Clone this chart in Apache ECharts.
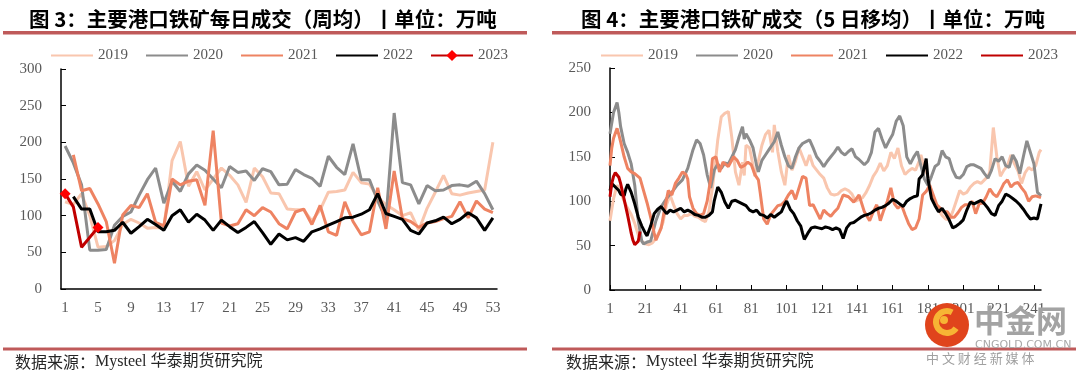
<!DOCTYPE html>
<html>
<head>
<meta charset="utf-8">
<title>主要港口铁矿成交</title>
<script src="https://cdn.jsdelivr.net/npm/echarts@6/dist/echarts.min.js"></script>
<style>
	html, body { margin: 0; padding: 0; background: #fff; }
	.box { position: absolute; top: 0; width: 540px; height: 375px; }
	#zhou { left: 0; }
	#yijun { left: 540px; }
</style>
</head>
<body>
<div class="box" id="zhou"></div>
<div class="box" id="yijun"></div>
<script>
//年份 颜色
var years = ['2019', '2020', '2021', '2022', '2023'];
var yearColor = ['#F9C6AE', '#8C8C8C', '#EE8362', '#000000', '#C00000'];

//图3 每日成交 周均 (第1-53周)
var weeks = [];
for (var i = 1; i <= 53; i++) weeks.push(String(i));
var w2019 = [119, 115, 130, 100, 57, 58, 66, 88, 95, 90, 83, 84, 83, 175, 201, 140, 160, 135, 150, 165,
	155, 142, 118, 165, 153, 131, 130, 109, 108, 108, 93, 108, 132, 133, 135, 159, 145, 143, 125, 115,
	108, 100, 104, 80, 110, 132, 155, 130, 128, 131, 133, 135, 200];
var w2020 = [195, 172, 142, 53, 53, 54, 87, 99, 105, 128, 149, 165, 117, 147, 133, 157, 169, 162, 150, 138,
	167, 159, 161, 148, 164, 160, 142, 143, 163, 156, 151, 140, 181, 166, 156, 198, 149, 149, 120, 95,
	240, 145, 142, 116, 141, 134, 135, 141, 142, 140, 147, 130, 108];
var w2021 = [null, 183, 134, 137, 116, 92, 35, 101, 114, 111, 130, 91, 86, 150, 142, 147, 149, 114, 216, 90,
	86, 89, 108, 100, 111, 105, 89, 82, 105, 109, 88, 114, 78, 73, 119, 92, 74, 78, 138, 82,
	161, 96, 92, 84, 90, 92, 96, 99, 119, 97, 120, 109, 104];
var w2022 = [null, 126, 109, 109, 78, 78, 80, 91, 76, 85, 95, 88, 80, 100, 108, 91, 102, 94, 80, 94,
	85, 77, 84, 92, 77, 61, 75, 67, 70, 65, 78, 82, 87, 92, 97, 98, 102, 108, 130, 103,
	99, 95, 80, 75, 90, 93, 98, 89, 95, 104, 97, 80, 97];
var w2023 = [130, 112, 57, null, 84];

//图4 5日移均 [日序, 万吨]
var days = [];
for (var j = 1; j <= 245; j++) days.push(String(j));
var d2019 = [[1, 78], [3, 103], [5, 118], [7, 110], [9, 100], [11, 92], [13, 85], [15, 75], [17, 62], [19, 55], [21, 52], [23, 51], [25, 53], [27, 58], [29, 66], [31, 76], [33, 96], [35, 107], [37, 96], [39, 86], [41, 80], [43, 84], [45, 84], [47, 86], [49, 83], [51, 82], [53, 79], [55, 77], [57, 88], [59, 115], [61, 150], [62, 169], [64, 195], [66, 199], [68, 201], [70, 171], [72, 133], [74, 118], [76, 144], [77, 129], [78, 163], [80, 160], [82, 140], [83, 128], [85, 145], [87, 163], [89, 175], [91, 180], [93, 155], [94, 186], [96, 156], [98, 133], [100, 118], [102, 152], [104, 135], [106, 145], [108, 160], [110, 150], [112, 140], [114, 152], [116, 140], [118, 135], [120, 130], [122, 126], [124, 115], [126, 108], [128, 107], [130, 108], [132, 112], [134, 114], [136, 112], [138, 108], [140, 100], [142, 102], [144, 104], [146, 110], [148, 118], [150, 128], [152, 134], [154, 143], [156, 134], [158, 140], [160, 155], [162, 148], [164, 160], [166, 140], [168, 130], [170, 134], [172, 137], [174, 135], [176, 145], [177, 152], [179, 138], [181, 128], [183, 105], [185, 96], [187, 90], [189, 84], [191, 80], [193, 79], [195, 88], [197, 100], [199, 112], [201, 108], [203, 110], [205, 116], [207, 120], [209, 122], [211, 120], [213, 124], [215, 128], [216, 133], [218, 183], [220, 150], [222, 128], [224, 135], [226, 140], [228, 152], [230, 142], [232, 134], [234, 120], [236, 132], [238, 138], [240, 135], [242, 140], [244, 155], [245, 158]];
var d2020 = [[1, 176], [3, 200], [5, 211], [6, 200], [7, 184], [9, 165], [11, 155], [13, 142], [15, 118], [17, 78], [19, 55], [20, 52], [22, 54], [24, 55], [27, 78], [30, 94], [33, 103], [36, 110], [39, 118], [42, 124], [45, 137], [48, 158], [50, 169], [52, 165], [54, 152], [56, 130], [58, 115], [60, 135], [62, 142], [64, 137], [66, 143], [68, 142], [70, 150], [72, 158], [74, 172], [76, 184], [77, 170], [78, 176], [80, 169], [82, 160], [84, 140], [85, 133], [87, 146], [89, 152], [91, 158], [94, 167], [96, 178], [98, 163], [100, 150], [102, 140], [104, 137], [106, 150], [108, 160], [110, 165], [112, 167], [114, 169], [116, 160], [118, 150], [120, 145], [122, 139], [124, 145], [126, 150], [128, 155], [130, 161], [132, 155], [134, 152], [136, 156], [138, 159], [140, 150], [142, 147], [145, 141], [147, 145], [149, 155], [151, 178], [153, 182], [155, 170], [157, 160], [159, 168], [161, 175], [163, 190], [165, 196], [167, 185], [169, 150], [171, 142], [173, 150], [175, 156], [177, 140], [179, 125], [181, 118], [183, 128], [185, 139], [187, 142], [189, 157], [191, 150], [193, 148], [195, 135], [197, 127], [199, 126], [201, 130], [203, 139], [205, 141], [207, 141], [209, 139], [211, 137], [213, 131], [215, 126], [217, 135], [219, 148], [221, 145], [223, 150], [225, 140], [227, 138], [229, 152], [231, 145], [233, 131], [235, 150], [237, 168], [239, 155], [241, 142], [243, 110], [245, 106]];
var d2021 = [[1, 140], [2, 160], [3, 171], [5, 182], [6, 175], [7, 167], [9, 150], [11, 137], [13, 133], [15, 131], [16, 133], [18, 126], [20, 112], [22, 98], [24, 82], [26, 64], [27, 56], [28, 58], [30, 70], [32, 92], [34, 112], [36, 107], [38, 120], [40, 126], [42, 133], [44, 130], [45, 125], [46, 105], [48, 92], [50, 86], [52, 84], [54, 86], [56, 100], [58, 125], [59, 148], [61, 150], [63, 133], [65, 144], [68, 139], [71, 150], [73, 146], [75, 138], [77, 140], [79, 144], [81, 141], [83, 130], [85, 124], [86, 110], [88, 80], [90, 74], [92, 85], [94, 90], [96, 95], [98, 96], [100, 100], [102, 107], [104, 112], [106, 102], [108, 115], [110, 128], [112, 126], [114, 95], [116, 96], [118, 88], [120, 80], [122, 90], [124, 86], [126, 83], [128, 88], [130, 92], [133, 107], [136, 105], [139, 99], [142, 107], [145, 88], [148, 78], [150, 88], [152, 96], [154, 78], [156, 90], [158, 100], [160, 115], [162, 97], [164, 92], [166, 96], [168, 85], [170, 75], [172, 68], [174, 70], [176, 80], [178, 107], [180, 111], [182, 118], [184, 107], [186, 96], [188, 92], [190, 88], [192, 88], [194, 82], [196, 82], [198, 87], [200, 93], [202, 96], [204, 96], [206, 100], [208, 86], [210, 97], [212, 98], [214, 105], [216, 114], [218, 108], [220, 105], [222, 112], [224, 120], [226, 124], [228, 116], [230, 120], [232, 121], [234, 115], [236, 110], [238, 100], [240, 105], [242, 106], [245, 104]];
var d2022 = [[1, 112], [2, 120], [4, 116], [6, 112], [7, 108], [9, 106], [10, 114], [11, 119], [13, 110], [15, 97], [17, 82], [19, 72], [21, 64], [22, 61], [24, 72], [26, 86], [28, 91], [30, 94], [31, 96], [33, 86], [35, 90], [37, 88], [39, 90], [41, 92], [43, 88], [45, 90], [47, 88], [49, 85], [51, 84], [53, 82], [55, 82], [57, 84], [59, 88], [60, 100], [62, 116], [63, 113], [64, 110], [66, 99], [68, 92], [70, 100], [72, 101], [74, 99], [76, 97], [78, 95], [80, 90], [82, 88], [84, 90], [86, 85], [88, 84], [90, 81], [92, 85], [94, 82], [96, 85], [98, 88], [100, 97], [101, 100], [103, 91], [105, 86], [107, 78], [109, 72], [110, 64], [111, 57], [113, 64], [115, 70], [117, 71], [119, 70], [121, 69], [123, 71], [125, 70], [127, 68], [129, 70], [131, 68], [133, 58], [135, 70], [137, 75], [139, 76], [141, 79], [143, 82], [145, 84], [147, 85], [149, 87], [151, 90], [153, 92], [155, 93], [157, 95], [159, 98], [161, 102], [163, 100], [165, 97], [167, 94], [169, 100], [171, 103], [173, 105], [175, 106], [176, 125], [178, 130], [180, 148], [181, 125], [183, 103], [185, 95], [187, 88], [189, 92], [191, 86], [193, 79], [195, 70], [197, 72], [199, 75], [201, 79], [203, 90], [205, 99], [207, 97], [209, 99], [211, 101], [213, 97], [215, 92], [217, 86], [219, 84], [221, 95], [223, 100], [225, 108], [227, 106], [229, 103], [231, 100], [233, 96], [235, 91], [237, 85], [239, 80], [241, 81], [243, 80], [245, 97]];
var d2023 = [[1, 105], [2, 120], [3, 128], [4, 132], [5, 131], [6, 127], [7, 120], [8, 111], [9, 102], [10, 93], [11, 84], [12, 74], [13, 64], [14, 56], [15, 51], [16, 49], [17, 55], [18, 66]];

var serif = '"Liberation Serif", "Times New Roman", serif';
var cjk = '"Noto Sans CJK SC", sans-serif';
var ruleColor = '#BF5A5A';

function pairs(arr) {
	return arr.map(function(p) {
		return [String(p[0]), p[1]];
	});
}

function line(k, data, extra) {
	var s = {
		name: years[k],
		type: 'line',
		data: data,
		symbol: 'none',
		showSymbol: false,
		lineStyle: { color: yearColor[k], width: 3 },
		itemStyle: { color: yearColor[k] }
	};
	for (var key in extra) s[key] = extra[key];
	return s;
}

//标题 红线 数据来源
function frame(title, tx, rx, sx) {
	return [{
		type: 'text',
		style: { text: title, x: tx, y: 19, font: 'bold 20.5px ' + cjk, fill: '#000', verticalAlign: 'middle' }
	}, {
		type: 'rect',
		shape: { x: rx, y: 31, width: 524, height: 3.5 },
		style: { fill: ruleColor }
	}, {
		type: 'rect',
		shape: { x: rx, y: 347.5, width: 524, height: 3 },
		style: { fill: ruleColor }
	}, {
		type: 'text',
		style: { text: '数据来源：', x: sx, y: 362, font: '16px ' + cjk, fill: '#262626', verticalAlign: 'middle' }
	}, {
		type: 'text',
		style: { text: 'Mysteel 华泰期货研究院', x: sx + 80, y: 362, font: '16px ' + serif + ', ' + cjk, fill: '#262626', verticalAlign: 'middle' }
	}];
}

//图例 只画线, withMark 时 2023 带菱形
function legend(left, withMark) {
	var items = years.slice(0, 4);
	items.push(withMark ? { name: '2023', itemStyle: { opacity: 1 } } : '2023');
	return {
		left: left,
		top: 48,
		padding: 0,
		itemWidth: 42,
		itemHeight: 14,
		itemGap: 17,
		data: items,
		itemStyle: { opacity: 0 },
		textStyle: { fontFamily: serif, fontSize: 15, color: '#595959' }
	};
}

function yAxis(max) {
	return {
		type: 'value',
		min: 0,
		max: max,
		interval: 50,
		axisLine: { show: true, lineStyle: { color: '#000', width: 1.5 } },
		axisTick: { show: true, inside: true, length: 5, lineStyle: { color: '#000' } },
		axisLabel: { margin: 19, fontFamily: serif, fontSize: 15, color: '#595959' },
		splitLine: { show: false }
	};
}

function xAxis(cats, gap, every) {
	return {
		type: 'category',
		data: cats,
		boundaryGap: gap,
		axisLine: { lineStyle: { color: '#000', width: 1.5 } },
		axisTick: { inside: true, length: 5, interval: every, lineStyle: { color: '#000' } },
		axisLabel: { interval: every, margin: 12, fontFamily: serif, fontSize: 15, color: '#595959' }
	};
}

//图3 周均
var zhouOption = {
	animation: false,
	backgroundColor: '#fff',
	graphic: frame('图 3：主要港口铁矿每日成交（周均）丨单位：万吨', 29, 3, 15),
	legend: legend(50, true),
	grid: { left: 61, top: 69, width: 436, height: 220 },
	xAxis: xAxis(weeks, true, 3),
	yAxis: yAxis(300),
	series: [
		line(0, w2019),
		line(1, w2020),
		line(2, w2021),
		line(3, w2022),
		line(4, w2023, {
			symbol: 'diamond',
			showSymbol: true,
			symbolSize: 11,
			connectNulls: true,
			itemStyle: { color: '#FF0000' }
		})
	]
};

//图4 5日移均 + 中金网水印
var mark = [{
	type: 'circle',
	shape: { cx: 407, cy: 325, r: 22 },
	style: { fill: '#E0441C' },
	z: 100
}, {
	type: 'arc',
	shape: { cx: 407, cy: 322, r: 11, startAngle: 0.6, endAngle: 5.2 },
	style: { stroke: '#F7B534', lineWidth: 6, fill: null },
	z: 101
}, {
	type: 'circle',
	shape: { cx: 404, cy: 320, r: 4 },
	style: { fill: '#F7B534' },
	z: 101
}, {
	type: 'text',
	style: { text: '中金网', x: 434, y: 320, font: 'bold 31px ' + cjk, fill: '#A3A3A3', verticalAlign: 'middle' },
	z: 100
}, {
	type: 'text',
	style: { text: 'CNGOLD.COM.CN', x: 435, y: 345, font: '11px "DejaVu Sans", sans-serif', fill: '#A8A8A8', verticalAlign: 'middle' },
	z: 100
}, {
	type: 'text',
	style: { text: '中 文 财 经 新 媒 体', x: 386, y: 358, font: '13px ' + cjk, fill: '#A0A0A0', verticalAlign: 'middle' },
	z: 100
}];

var yijunOption = {
	animation: false,
	backgroundColor: '#fff',
	graphic: frame('图 4：主要港口铁矿成交（5 日移均）丨单位：万吨', 41, 12, 26).concat(mark),
	legend: legend(60, false),
	grid: { left: 70, top: 68, width: 431, height: 222 },
	xAxis: xAxis(days, false, 19),
	yAxis: yAxis(250),
	series: [
		line(0, pairs(d2019)),
		line(1, pairs(d2020)),
		line(2, pairs(d2021)),
		line(3, pairs(d2022)),
		line(4, pairs(d2023))
	]
};

var zhouChart = echarts.init(document.getElementById('zhou'));
zhouChart.setOption(zhouOption);

var yijunChart = echarts.init(document.getElementById('yijun'));
yijunChart.setOption(yijunOption);
</script>
</body>
</html>
